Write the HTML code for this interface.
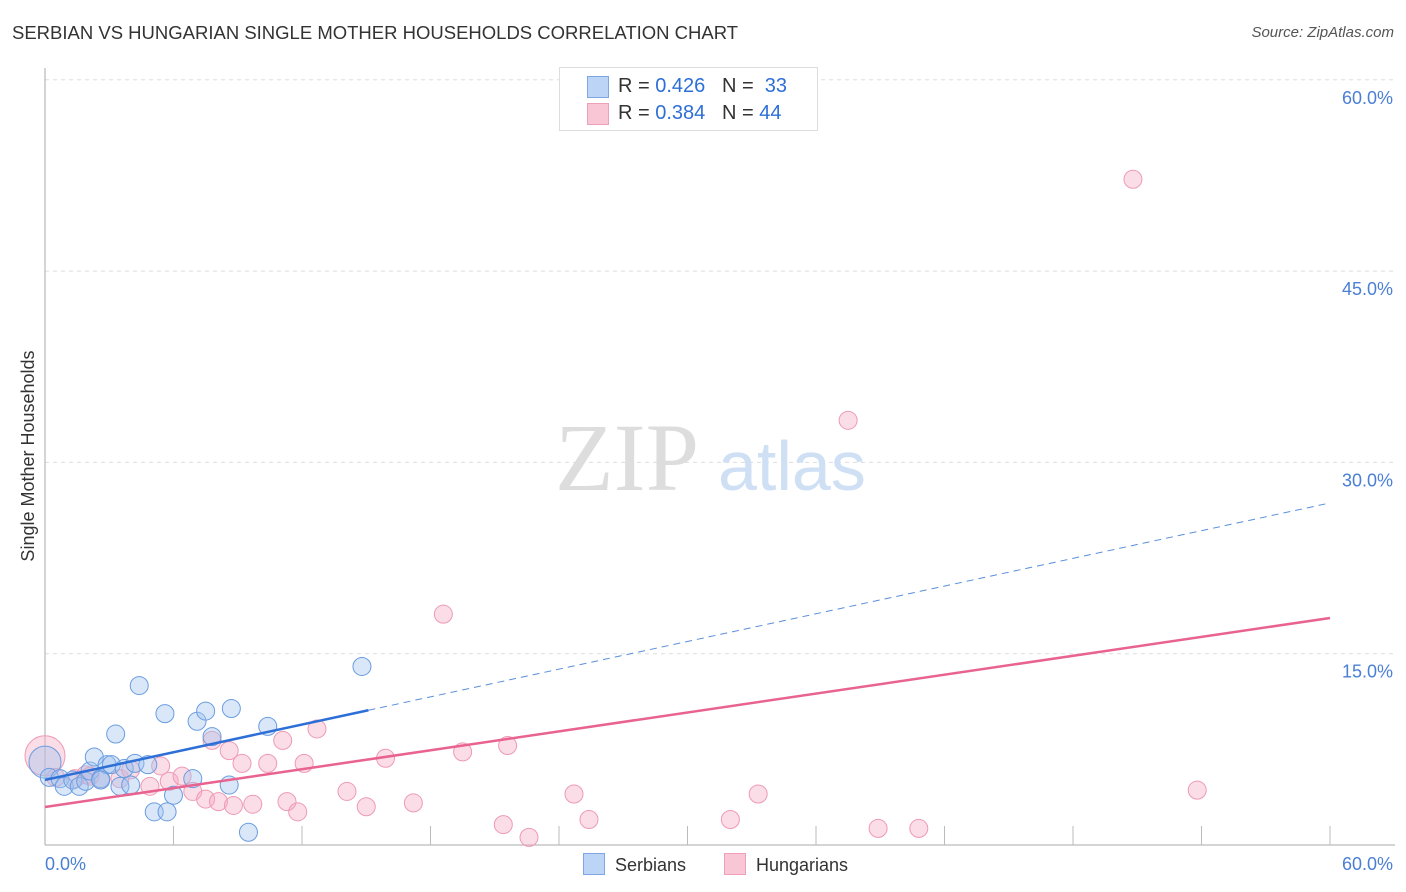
<!DOCTYPE html>
<html><head><meta charset="utf-8"><style>
body{margin:0;background:#fff;font-family:"Liberation Sans",sans-serif;}
#wrap{position:relative;width:1406px;height:892px;overflow:hidden;}
.t{position:absolute;white-space:nowrap;}
</style></head><body>
<div id="wrap">
<div class="t" style="left:12px;top:22px;font-size:18.5px;color:#333;">SERBIAN VS HUNGARIAN SINGLE MOTHER HOUSEHOLDS CORRELATION CHART</div>
<div class="t" style="right:12px;top:24px;font-size:15px;color:#555;font-style:italic;">Source: ZipAtlas.com</div>
<svg id="svg" width="1406" height="892" style="position:absolute;left:0;top:0"></svg>
</div>
<script>
const serbX=[0,0.2,0.7,0.9,1.3,1.6,1.9,2.1,2.3,2.6,2.9,3.1,3.3,3.5,3.7,4.0,4.2,4.4,4.8,5.1,5.6,5.7,6.0,6.9,7.1,7.5,7.8,8.6,8.7,9.5,10.4,14.8,2.6];
const serbY=[6.5,5.3,5.2,4.6,5.1,4.6,5.0,5.8,6.9,5.2,6.3,6.3,8.7,4.6,6.0,4.7,6.4,12.5,6.3,2.6,10.3,2.6,3.9,5.2,9.7,10.5,8.5,4.7,10.7,1.0,9.3,14.0,5.1];
const hungX=[0,0.5,1.4,1.9,2.1,2.6,3.5,4.0,4.9,5.4,5.8,6.4,6.9,7.5,7.8,8.1,8.6,8.8,9.2,9.7,10.4,11.1,11.3,11.8,12.1,12.7,14.1,15.0,15.9,17.2,18.6,19.5,21.4,21.6,22.6,24.7,25.4,32.0,33.3,37.5,38.9,40.8,50.8,53.8];
const hungY=[7.0,5.3,5.2,5.5,5.4,5.1,5.2,5.9,4.6,6.2,5.0,5.4,4.2,3.6,8.2,3.4,7.4,3.1,6.4,3.2,6.4,8.2,3.4,2.6,6.4,9.1,4.2,3.0,6.8,3.3,18.1,7.3,1.6,7.8,0.6,4.0,2.0,2.0,4.0,33.3,1.3,1.3,52.2,4.3];
const trendBlue=[5.1,0.362]; // intercept, slope (solid until x=15.1)
const trendPink=[2.98,0.247];
const yTicks=[15,30,45,60];
const yTickLabels=["15.0%","30.0%","45.0%","60.0%"];
const xAxisLabels=["0.0%","60.0%"];
const X0=45,X1=1330,Y0=845,PY=191.3/15;
const xs=v=>X0+(v/60)*(X1-X0), ys=v=>Y0-v*PY;
const svg=document.getElementById('svg');const NS='http://www.w3.org/2000/svg';
function mk(tag,a,p){const e=document.createElementNS(NS,tag);for(const k in a)e.setAttribute(k,a[k]);(p||svg).appendChild(e);return e;}
yTicks.forEach((t,i)=>{
 const g=mk('line',{x1:X0,x2:1395,y1:ys(t),y2:ys(t),stroke:'#ddd','stroke-dasharray':'4,4'});
 
 
 const l=mk('text',{x:1393,y:ys(t)+24,'text-anchor':'end','font-size':18,fill:'#4a7fd4','font-family':'Liberation Sans'});
 l.textContent=yTickLabels[i];
 
 
});
const ax=mk('line',{x1:X0,x2:X0,y1:68,y2:Y0,stroke:'#aaa'});


const bx=mk('line',{x1:X0,x2:1395,y1:Y0,y2:Y0,stroke:'#aaa'});


for(let i=1;i<=10;i++){const x=X0+i*128.5;const tk=mk('line',{x1:x,x2:x,y1:826,y2:Y0,stroke:'#bbb'});

}
const xl=mk('text',{x:45,y:870,'font-size':18,fill:'#4a7fd4','font-family':'Liberation Sans'});xl.textContent=xAxisLabels[0];


const xr=mk('text',{x:1393,y:870,'text-anchor':'end','font-size':18,fill:'#4a7fd4','font-family':'Liberation Sans'});xr.textContent=xAxisLabels[1];


const yt=mk('text',{x:34,y:456,transform:'rotate(-90 34 456)','text-anchor':'middle','font-size':18,fill:'#333','font-family':'Liberation Sans'});yt.textContent='Single Mother Households';


const wm=mk('text',{x:555,y:490,'font-size':96,fill:'#ddd','font-family':'Liberation Serif'});wm.textContent='ZIP';


const wm2=mk('text',{x:718,y:490,'font-size':70,fill:'#cfe0f5','font-family':'Liberation Sans'});wm2.textContent='atlas';


hungX.forEach((v,i)=>{const c=mk('circle',{cx:xs(v),cy:ys(hungY[i]),r:i==0?20:9,fill:'rgba(246,170,195,0.4)',stroke:'#ee9ab5','stroke-width':1});

});
serbX.forEach((v,i)=>{const c=mk('circle',{cx:xs(v),cy:ys(serbY[i]),r:i==0?16:9,fill:'rgba(160,195,240,0.4)',stroke:'#6a9de0','stroke-width':1});

});
const pl=mk('line',{x1:xs(0),y1:ys(trendPink[0]),x2:xs(60),y2:ys(trendPink[0]+60*trendPink[1]),stroke:'#e8638f','stroke-width':2.5});


const bs=15.1;
const bl=mk('line',{x1:xs(0),y1:ys(trendBlue[0]),x2:xs(bs),y2:ys(trendBlue[0]+bs*trendBlue[1]),stroke:'#2d6fd6','stroke-width':2.5});


const bd=mk('line',{x1:xs(bs),y1:ys(trendBlue[0]+bs*trendBlue[1]),x2:xs(60),y2:ys(trendBlue[0]+60*trendBlue[1]),stroke:'#5a8fdc','stroke-width':1,'stroke-dasharray':'7,5'});


</script>
<div class="t" style="left:559px;top:67px;width:257px;height:62px;border:1px solid #ddd;background:#fff;font-size:20px;color:#333;">
 <div style="position:absolute;left:27px;top:8px;width:20px;height:20px;background:#bcd4f6;border:1px solid #7ea6e3;"></div>
 <div style="position:absolute;left:58px;top:7px;">R = <span style="color:#2d6fd6">0.426</span>&nbsp;&nbsp;&nbsp;N = &nbsp;<span style="color:#2d6fd6">33</span></div>
 <div style="position:absolute;left:27px;top:35px;width:20px;height:20px;background:#f9c6d5;border:1px solid #eda0b8;"></div>
 <div style="position:absolute;left:58px;top:34px;">R = <span style="color:#2d6fd6">0.384</span>&nbsp;&nbsp;&nbsp;N = <span style="color:#2d6fd6">44</span></div>
</div>
<div class="t" style="left:583px;top:853px;font-size:18px;color:#333;"><span style="display:inline-block;width:20px;height:20px;background:#bcd4f6;border:1px solid #7ea6e3;vertical-align:-4px;margin-right:10px;"></span>Serbians</div>
<div class="t" style="left:724px;top:853px;font-size:18px;color:#333;"><span style="display:inline-block;width:20px;height:20px;background:#f9c6d5;border:1px solid #eda0b8;vertical-align:-4px;margin-right:10px;"></span>Hungarians</div>
</body></html>
